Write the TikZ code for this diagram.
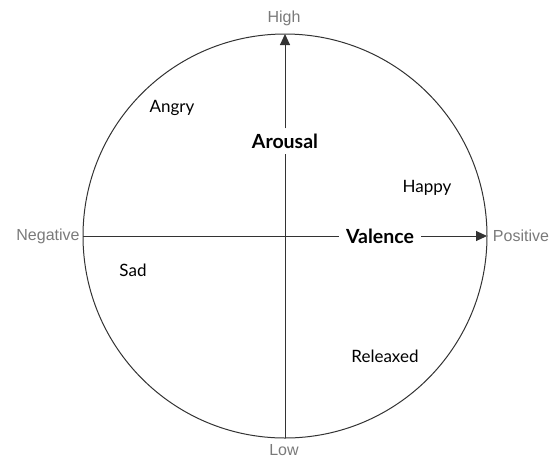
\documentclass[tikz,border=0pt]{standalone}
\usepackage{fontspec}
\setmainfont{Lato}
\newfontfamily\axisfont{Liberation Sans}
\usetikzlibrary{arrows.meta}
\definecolor{axisgray}{HTML}{7A7A7A}
\definecolor{linegray}{HTML}{333333}
\tikzset{
  emo/.style={font=\fontsize{17}{20}\selectfont, text=black},
  axislabel/.style={font=\axisfont\fontsize{16}{19}\selectfont, text=axisgray},
  axistitle/.style={font=\bfseries\fontsize{19.5}{22}\selectfont, text=black, fill=white, inner xsep=7pt, inner ysep=5pt},
  axisline/.style={draw=linegray, line width=1pt},
  tip/.style={-{Triangle[length=11pt,width=10pt]}}
}
\begin{document}
\begin{tikzpicture}[x=1pt,y=-1pt]
\useasboundingbox (0,0) rectangle (557,459);
\coordinate (c) at (285,236);
\draw[axisline] (c) circle[radius=202];
\coordinate (top) at (285,34);
\coordinate (bot) at (285,438);
\coordinate (lft) at (83,236);
\coordinate (rgt) at (487,236);
\node[axistitle] (arousal) at (285,141) {Arousal};
\node[axistitle] (valence) at (380,236) {Valence};
\draw[axisline] (bot) -- (arousal.south);
\draw[axisline,tip] (arousal.north) -- (top);
\draw[axisline] (lft) -- (valence.west);
\draw[axisline,tip] (valence.east) -- (rgt);
\node[axislabel] (high) at (284,18) {High};
\node[axislabel] (low) at (284,450) {Low};
\node[axislabel] (neg) at (48,236) {Negative};
\node[axislabel] (pos) at (521,236) {Positive};
\node[emo] (angry) at (172,108) {Angry};
\node[emo] (happy) at (427,188) {Happy};
\node[emo] (sad) at (133,270) {Sad};
\node[emo] (relaxed) at (385,356) {Releaxed};
\end{tikzpicture}
\end{document}
